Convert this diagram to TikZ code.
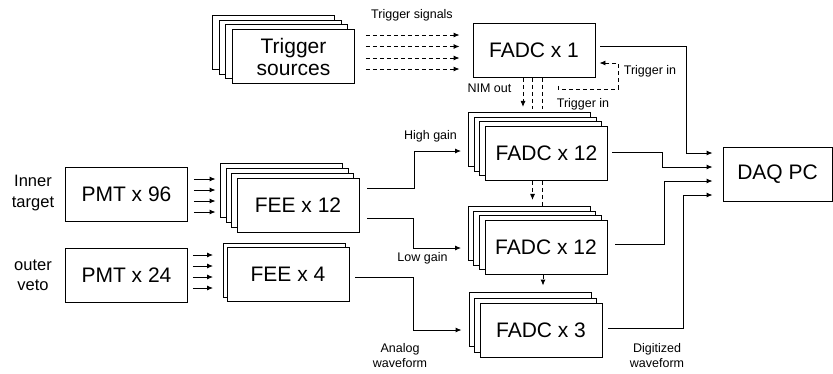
\documentclass[tikz,border=0pt]{standalone}
\usepackage{fontspec}
\setmainfont{Liberation Sans}
\usetikzlibrary{calc,arrows.meta}
\tikzset{
 box/.style={draw, fill=white, line width=0.9pt, minimum width=122pt, minimum height=54pt, inner sep=0pt, align=center, font=\fontsize{21}{22}\selectfont},
 lbl/.style={font=\fontsize{12.5}{15.5}\selectfont, align=center, inner sep=0pt},
 side/.style={font=\fontsize{16.5}{20.5}\selectfont, align=center, inner sep=0pt},
 conn/.style={line width=0.9pt, -{Latex[length=6pt,width=5pt]}},
 plain/.style={line width=0.9pt},
 dsh/.style={dash pattern=on 4pt off 3pt},
}
\newcommand\stk[7]{%
  \foreach \i in {#2} {\node[box] (#1\i) at ({#5-\i*#3},{#6-\i*#4}) {};}
  \node[box] (#1) at (#5,#6) {#7};
}
\begin{document}
\begin{tikzpicture}[x=1pt,y=-1pt]
\useasboundingbox (0,0) rectangle (833,373);
% boxes
\stk{trig}{3,2,1}{6.7}{4.7}{293.5}{56.5}{Trigger\\sources}
\node[box] (fadc1) at (534,50.5) {FADC x 1};
\stk{fadcA}{3,2,1}{5.6}{4.7}{546.5}{153.5}{FADC x 12}
\stk{fadcB}{3,2,1}{5.6}{4.7}{546}{247.5}{FADC x 12}
\stk{fadcC}{2,1}{5.5}{5.5}{541}{330.5}{FADC x 3}
\stk{feeA}{3,2,1}{5.5}{5}{298}{205}{FEE x 12}
\stk{feeB}{1}{4}{4}{288}{274}{FEE x 4}
\node[box] (pmtA) at (126.5,194) {PMT x 96};
\node[box] (pmtB) at (126.5,275.5) {PMT x 24};
\node[box, minimum width=109pt] (daq) at (777.5,174) {DAQ PC};
% labels
\node[lbl] (tsig) at (412,15) {Trigger signals};
\node[lbl] (nim) at (489.5,88) {NIM out};
\node[lbl] (tin1) at (650,71) {Trigger in};
\node[lbl] (tin2) at (583,104) {Trigger in};
\node[lbl] (hg) at (430.5,136) {High gain};
\node[lbl] (lg) at (422.5,258) {Low gain};
\node[lbl] (anl) at (400,355.5) {Analog\\waveform};
\node[lbl] (dig) at (657,355.5) {Digitized\\waveform};
\node[side] (inner) at (33,193) {Inner\\target};
\node[side] (outer) at (33,275) {outer\\veto};
% trigger signals
\foreach \d in {-15.5,-4,7.5,18.5}
  \draw[conn,dsh] ($(trig.east |- fadc1.west)+(11,\d)$) -- ($(fadc1.west)+(-13,\d)$);
% FADC x1 to DAQ
\draw[conn] ($(fadc1.east)+(5,-4.5)$) -- ++(86,0) |- ($(daq.west)+(-10,-21)$);
% trigger in (right)
\draw[conn,dsh] ($(fadc1.south east)+(-37,8)$) -- ++(0,3) -- ++(60,0) |- ($(fadc1.east)+(4,12.5)$);
% NIM out
\draw[conn,dsh] ($(fadc1.south)+(-11,0)$) -- ($(fadc1.south |- fadcA3.north)+(-11,-5)$);
\draw[plain,dsh] ($(fadc1.south)+(-1.5,0)$) -- ($(fadc1.south |- fadcA3.north)+(-1.5,-3)$);
\draw[plain,dsh] ($(fadc1.south)+(8,0)$) -- ($(fadc1.south |- fadcA3.north)+(8,-3)$);
% between FADC stacks
\draw[conn,dsh] ($(fadcA.south)+(-14,0)$) -- ($(fadcA.south |- fadcB3.north)+(-14,-6)$);
\draw[plain,dsh] ($(fadcA.south)+(-4.5,0)$) -- ($(fadcA.south |- fadcB3.north)+(-4.5,0)$);
\draw[conn,dsh] ($(fadcB.south)+(-3,0)$) -- ($(fadcB.south |- fadcC2.north)+(-3,-6.5)$);
% PMT to FEE
\foreach \d in {-15,-4,7,18}
  \draw[conn] ($(pmtA.east)+(6,\d)$) -- ($(pmtA.east -| feeA3.west)+(-4.5,\d)$);
\foreach \d in {-20.5,-9.5,1.5,12.5}
  \draw[conn] ($(pmtB.east)+(5,\d)$) -- ($(pmtB.east -| feeB1.west)+(-9.5,\d)$);
% FEE to FADC
\draw[conn] ($(feeA.east)+(8,-17)$) -- ++(47,0) |- ($(fadcA.west)+(-24,-2.5)$);
\draw[conn] ($(feeA.east)+(8,13)$) -- ++(46,0) |- ($(fadcB.west)+(-23.5,0.5)$);
\draw[conn] ($(feeB.east)+(6,3)$) -- ++(58,0) |- ($(fadcC.west)+(-18,-0.5)$);
% FADC to DAQ
\draw[conn] ($(fadcA.east)+(4.5,-1.5)$) -- ++(50,0) |- ($(daq.west)+(-10,-7)$);
\draw[conn] ($(fadcB.east)+(8,-3.5)$) -- ++(49,0) |- ($(daq.west)+(-10,7)$);
\draw[conn] ($(fadcC.east)+(6,-2.5)$) -- ++(75,0) |- ($(daq.west)+(-10,21)$);
\end{tikzpicture}
\end{document}
